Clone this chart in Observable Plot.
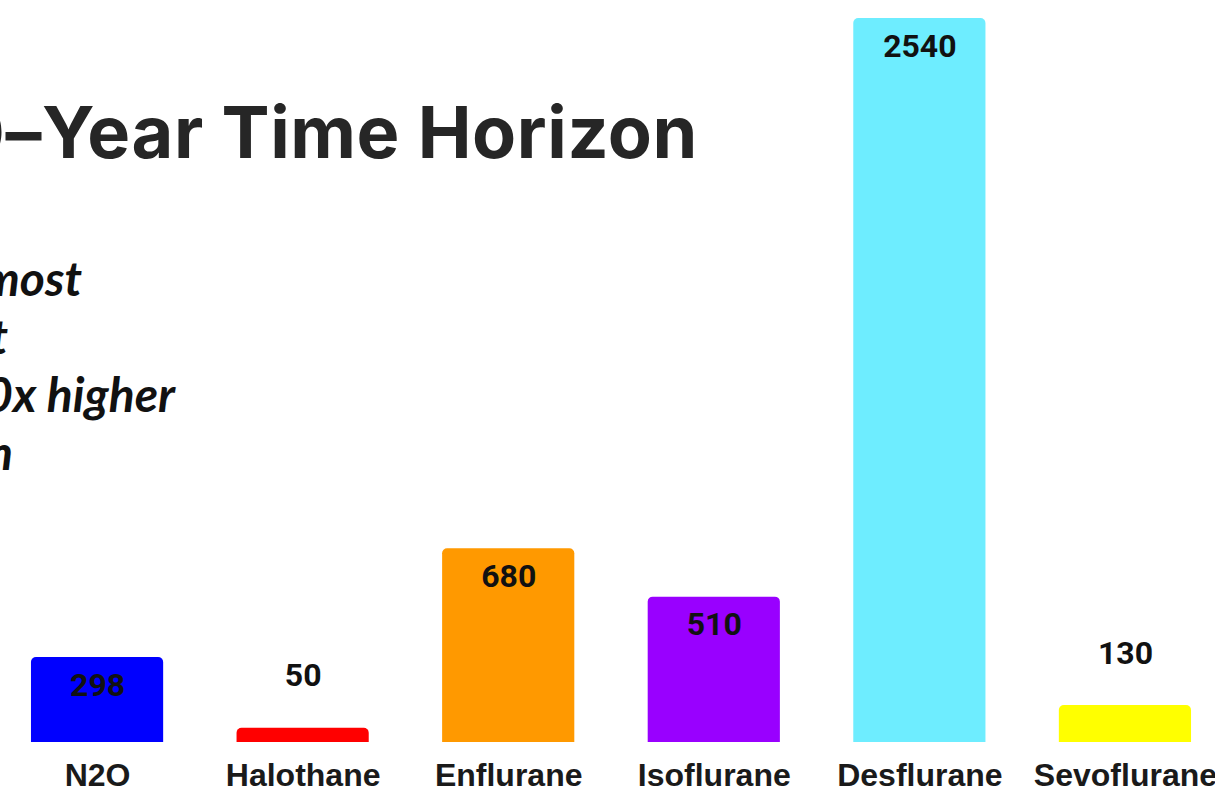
<!DOCTYPE html>
<html>
<head>
<meta charset="utf-8">
<script src="https://cdn.jsdelivr.net/npm/d3@7"></script>
<script src="https://cdn.jsdelivr.net/npm/@observablehq/plot@0.6"></script>
<style>
  html, body { margin: 0; padding: 0; background: #fff; overflow: hidden; }
  #wrap { position: relative; width: 1215px; height: 792px; overflow: hidden; }
  #chart { position: absolute; left: 0; top: 0; }
  .title {
    position: absolute; right: 517px; top: 96px; white-space: nowrap;
    font-family: Inter, sans-serif; font-weight: 700; font-size: 72px; line-height: 72px;
    color: #262626; letter-spacing: 0.6px;
  }
  .note {
    position: absolute; white-space: nowrap; text-align: right;
    font-family: Lato, sans-serif; font-weight: 700; font-style: italic;
    font-size: 48px; line-height: 58px; color: #111;
  }
</style>
</head>
<body>
<div id="wrap">
  <div id="chart"></div>
  <div class="title">GWP on a 100–Year Time Horizon</div>
  <div class="note" style="right:1133px; top:249px;">Desflurane is the most</div>
  <div class="note" style="right:1207px; top:307px;">potent agent by far at</div>
  <div class="note" style="right:1040px; top:365px;">roughly 20x higher</div>
  <div class="note" style="right:1202px; top:423px;">than the next worst option</div>
</div>
<script>
// Global warming potential of inhaled anaesthetic agents (100-year horizon)
const agents = ["N2O", "Halothane", "Enflurane", "Isoflurane", "Desflurane", "Sevoflurane"];
const gwp = [298, 50, 680, 510, 2540, 130];
const barColors = ["#0000ff", "#ff0000", "#ff9900", "#9900ff", "#6eedff", "#ffff00"];

const data = agents.map((agent, i) => ({agent, gwp: gwp[i], color: barColors[i]}));
const insideLimit = 200; // shorter bars carry their label above the bar

const chart = Plot.plot({
  width: 1215,
  height: 792,
  marginTop: 18,
  marginBottom: 50,
  marginLeft: 10,
  marginRight: 3,
  x: {domain: agents, paddingInner: 0.357, paddingOuter: 0.102, round: false, label: null},
  y: {domain: [0, 2540], axis: null},
  marks: [
    // rounded top corners; the bottom corners are pushed below the frame and clipped
    Plot.barY(data, {x: "agent", y: "gwp", fill: "color", rx: 5, insetBottom: -10, clip: true}),
    Plot.text(data.filter(d => d.gwp >= insideLimit), {
      x: "agent", y: "gwp", text: d => String(d.gwp), dy: 28,
      fontFamily: "Roboto", fontWeight: 700, fontSize: 32, fill: "#111"
    }),
    Plot.text(data.filter(d => d.gwp < insideLimit), {
      x: "agent", y: "gwp", text: d => String(d.gwp), dy: -52,
      fontFamily: "Roboto", fontWeight: 700, fontSize: 32, fill: "#111"
    }),
    Plot.axisX({
      tickSize: 0, tickPadding: 21, fontSize: 32, fontWeight: 700,
      fontFamily: "Liberation Sans", fill: "#1a1a1a", label: null
    })
  ]
});
chart.style.fontFamily = "Liberation Sans";
chart.style.overflow = "visible";
document.getElementById("chart").appendChild(chart);
</script>
</body>
</html>
